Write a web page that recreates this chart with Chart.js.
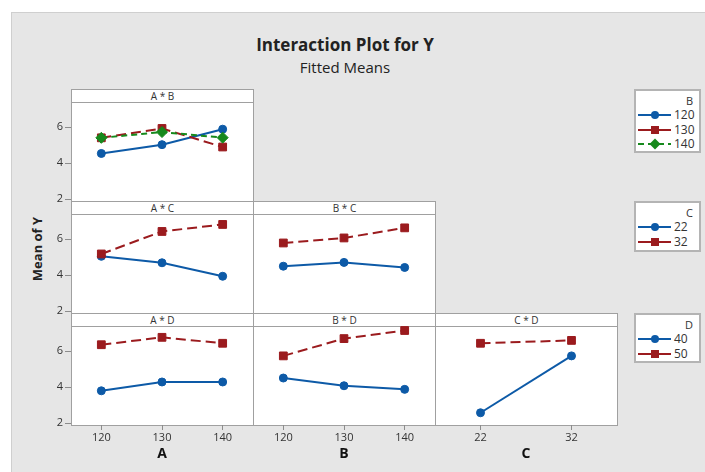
<!DOCTYPE html>
<html lang="en">
<head>
<meta charset="UTF-8">
<title>Interaction Plot for Y</title>
<style>
  body { margin: 0; width: 705px; height: 472px; overflow: hidden; background: #fff; position: relative; font-family: "Open Sans", sans-serif; color: #222; }
  #frame { position: absolute; left: 11px; top: 12px; width: 720px; height: 480px; background: #e6e6e6; border: 1px solid #cfcfcf; }
  .abs { position: absolute; }
  .panel { position: absolute; box-sizing: border-box; background: #fff; border: 1px solid #a0a0a0; }
  .head { height: 12px; border-bottom: 1px solid #a0a0a0; font-size: 10px; line-height: 12px; text-align: center; color: #333; }
  .legend { position: absolute; left: 634px; width: 67px; box-sizing: border-box; background: #fff; border: 2px solid #b4b4b4; }
  .legend .lt { position: absolute; right: 6px; font-size: 11px; line-height: 12px; color: #333; }
  .legend .it { position: absolute; left: 0; height: 14px; width: 64px; }
  .legend .it span { position: absolute; left: 38px; top: 0; font-size: 12px; line-height: 14px; color: #333; }
  .legend svg { position: absolute; left: 1px; top: 0; }
  canvas { position: absolute; z-index: 5; }
</style>
</head>
<body>
<script src="https://cdn.jsdelivr.net/npm/chart.js@4.4.0/dist/chart.umd.min.js"></script>

<div id="frame"></div>
<div class="abs" style="left:0; width:690px; top:33px; text-align:center; font-size:17px; font-weight:bold; line-height:24px;">Interaction Plot for Y</div>
<div class="abs" style="left:0; width:690px; top:56px; text-align:center; font-size:15px; line-height:22px;">Fitted Means</div>
<div class="abs" style="left:-13px; top:241px; width:100px; text-align:center; font-size:13px; font-weight:bold; line-height:16px; transform:rotate(-90deg);">Mean of Y</div>
<div id="stage"></div>

<script>
    // factor levels and tick labels
    const xLevelsAB = [120, 130, 140];
    const xLevelsC = [22, 32];
    const yTicks = [2, 4, 6];
    const xTitles = ['A', 'B', 'C'];

    // fitted means, one array per trace level
    const abB120 = [4.54, 5.03, 5.89];
    const abB130 = [5.41, 5.93, 4.90];
    const abB140 = [5.41, 5.73, 5.42];
    const acC22 = [5.05, 4.69, 3.94];
    const acC32 = [5.18, 6.43, 6.82];
    const bcC22 = [4.50, 4.71, 4.43];
    const bcC32 = [5.79, 6.07, 6.63];
    const adD40 = [3.80, 4.29, 4.29];
    const adD50 = [6.36, 6.77, 6.44];
    const bdD40 = [4.51, 4.08, 3.88];
    const bdD50 = [5.74, 6.70, 7.15];
    const cdD40 = [2.58, 5.74];
    const cdD50 = [6.44, 6.60];

    // legend labels
    const legendB = ['120', '130', '140'];
    const legendC = ['22', '32'];
    const legendD = ['40', '50'];

    const panels = [
        {title: 'A * B', row: 0, col: 0, x: xLevelsAB, series: [abB120, abB130, abB140]},
        {title: 'A * C', row: 1, col: 0, x: xLevelsAB, series: [acC22, acC32]},
        {title: 'B * C', row: 1, col: 1, x: xLevelsAB, series: [bcC22, bcC32]},
        {title: 'A * D', row: 2, col: 0, x: xLevelsAB, series: [adD40, adD50]},
        {title: 'B * D', row: 2, col: 1, x: xLevelsAB, series: [bdD40, bdD50]},
        {title: 'C * D', row: 2, col: 2, x: xLevelsC, series: [cdD40, cdD50]}
    ];

    const BLUE = '#0d5aa7', RED = '#9b1b1e', GREEN = '#16891c';
    const styles = [
        {color: BLUE, dash: [], point: 'circle', r: 4},
        {color: RED, dash: [10, 5], point: 'rect', r: 5.5},
        {color: GREEN, dash: [6, 4], point: 'rectRot', r: 5.5}
    ];

    // layout
    const colX = [71, 253, 435];
    const rowY = [89, 201, 313];
    const HEAD = 13, W = 182, H = 99, PAD = 15;
    const xRange = [[115, 145], [115, 145], [17, 37]];
    const FONT = '"Open Sans", sans-serif';
    const stage = document.getElementById('stage');

    panels.forEach(p => {
        const left = colX[p.col], top = rowY[p.row];
        const box = document.createElement('div');
        box.className = 'panel';
        box.style.cssText = `left:${left}px; top:${top}px; width:${W + 1}px; height:${HEAD + H + 1}px;`;
        box.innerHTML = `<div class="head">${p.title}</div>`;
        stage.appendChild(box);

        const showY = p.col === 0, showX = p.row === 2;
        const padL = showY ? 60 : PAD, padB = showX ? 41 : PAD;
        const cv = document.createElement('canvas');
        cv.width = W + padL + PAD;
        cv.height = H + PAD + padB;
        cv.style.left = (left - padL) + 'px';
        cv.style.top = (top + HEAD - PAD) + 'px';
        stage.appendChild(cv);

        new Chart(cv, {
            type: 'line',
            data: {
                datasets: p.series.map((vals, i) => ({
                    data: vals.map((v, k) => ({x: p.x[k], y: v})),
                    borderColor: styles[i].color,
                    backgroundColor: styles[i].color,
                    pointBorderColor: styles[i].color,
                    borderWidth: 2,
                    borderDash: styles[i].dash,
                    pointStyle: styles[i].point,
                    pointRadius: styles[i].r,
                    pointBorderWidth: 1,
                    tension: 0,
                    order: 3 - i
                }))
            },
            options: {
                responsive: false,
                animation: false,
                events: [],
                layout: {padding: {left: showY ? 0 : PAD, right: PAD, top: PAD, bottom: showX ? 0 : PAD}},
                plugins: {legend: {display: false}, tooltip: {enabled: false}},
                scales: {
                    x: {
                        type: 'linear',
                        min: xRange[p.col][0],
                        max: xRange[p.col][1],
                        display: showX,
                        afterBuildTicks: s => { s.ticks = p.x.map(v => ({value: v})); },
                        afterFit: s => { if (showX) s.height = 41; },
                        grid: {drawOnChartArea: false, drawTicks: true, tickLength: 5, tickColor: '#8c8c8c'},
                        border: {display: false},
                        ticks: {padding: 1, color: '#333', font: {family: FONT, size: 11}},
                        title: {display: true, text: xTitles[p.col], color: '#111', padding: {top: 0, bottom: 4},
                            font: {family: FONT, size: 14, weight: 'bold'}}
                    },
                    y: {
                        type: 'linear',
                        min: 1.9,
                        max: 7.4,
                        display: showY,
                        afterBuildTicks: s => { s.ticks = yTicks.map(v => ({value: v})); },
                        afterFit: s => { if (showY) s.width = 60; },
                        grid: {drawOnChartArea: false, drawTicks: true, tickLength: 6, tickColor: '#8c8c8c'},
                        border: {display: false},
                        ticks: {padding: 2, color: '#333', font: {family: FONT, size: 11}}
                    }
                }
            }
        });
    });

    function symbol(i) {
        const s = styles[i];
        let mark;
        if (s.point === 'circle') mark = `<circle cx="18" cy="7" r="4" fill="${s.color}"/>`;
        else if (s.point === 'rect') mark = `<rect x="14" y="3" width="8" height="8" fill="${s.color}"/>`;
        else mark = `<polygon points="18,1.5 23.5,7 18,12.5 12.5,7" fill="${s.color}"/>`;
        const dash = s.point === 'rectRot' ? ' stroke-dasharray="6,4"' : '';
        return `<svg width="36" height="14"><line x1="1" y1="7" x2="34" y2="7" stroke="${s.color}" stroke-width="2"${dash}/>${mark}</svg>`;
    }

    function legend(top, height, title, labels) {
        const d = document.createElement('div');
        d.className = 'legend';
        d.style.top = top + 'px';
        d.style.height = height + 'px';
        let html = `<div class="lt" style="top:4px">${title}</div>`;
        labels.forEach((lab, i) => {
            html += `<div class="it" style="top:${17 + 14.5 * i}px">${symbol(i)}<span>${lab}</span></div>`;
        });
        d.innerHTML = html;
        stage.appendChild(d);
    }

    legend(89, 64, 'B', legendB);
    legend(201, 51, 'C', legendC);
    legend(313, 50, 'D', legendD);
</script>
</body>
</html>
